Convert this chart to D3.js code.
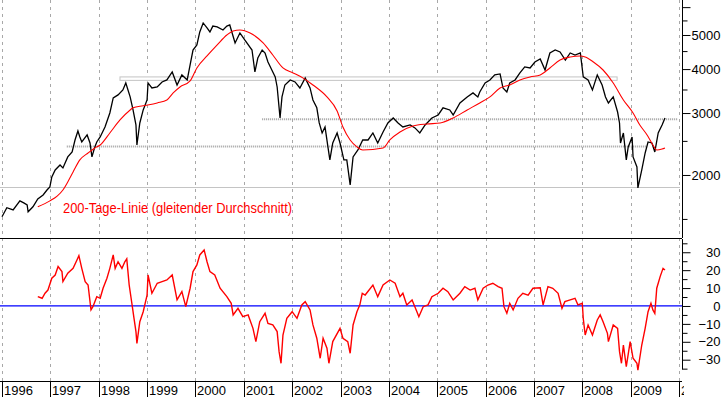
<!DOCTYPE html>
<html>
<head>
<meta charset="utf-8">
<script src="https://cdn.jsdelivr.net/npm/d3@7"></script>
<style>
  body { margin: 0; background: #fff; }
  svg { display: block; font-family: "Liberation Sans", Arial, sans-serif; }
</style>
</head>
<body>
<div id="chart"></div>
<script>
// Kurs (Euro Stoxx 50), Zeit in Dezimaljahren
var priceT = [1996.00,1996.10,1996.23,1996.37,1996.45,1996.52,1996.54,1996.64,1996.74,1996.85,1996.93,1996.99,
  1997.03,1997.10,1997.20,1997.26,1997.36,1997.45,1997.51,1997.57,1997.61,1997.65,1997.76,1997.82,1997.86,1997.92,1997.96,
  1998.03,1998.13,1998.23,1998.30,1998.40,1998.50,1998.56,1998.65,1998.71,1998.77,1998.79,1998.85,1998.92,
  1999.00,1999.02,1999.10,1999.21,1999.31,1999.41,1999.52,1999.62,1999.72,1999.83,1999.89,1999.95,
  2000.03,2000.09,2000.16,2000.24,2000.30,2000.36,2000.45,2000.57,2000.65,2000.71,2000.82,2000.92,
  2001.02,2001.17,2001.23,2001.29,2001.38,2001.44,2001.50,2001.58,2001.65,2001.69,2001.75,2001.79,2001.85,2001.96,
  2002.06,2002.16,2002.27,2002.37,2002.43,2002.51,2002.56,2002.62,2002.68,2002.74,2002.78,2002.84,2002.93,2002.99,
  2003.07,2003.13,2003.20,2003.26,2003.36,2003.46,2003.57,2003.67,2003.77,2003.88,2003.98,
  2004.09,2004.19,2004.29,2004.44,2004.54,2004.64,2004.75,2004.89,
  2005.02,2005.12,2005.26,2005.33,2005.47,2005.62,2005.74,2005.84,2005.88,2005.99,
  2006.09,2006.19,2006.30,2006.36,2006.44,2006.50,2006.61,2006.71,2006.81,2006.92,
  2007.02,2007.13,2007.23,2007.33,2007.44,2007.54,2007.65,2007.75,2007.85,2007.96,
  2008.02,2008.12,2008.21,2008.31,2008.41,2008.48,2008.54,2008.64,2008.73,2008.77,2008.79,2008.85,2008.91,2008.95,
  2009.03,2009.05,2009.13,2009.15,2009.23,2009.30,2009.36,2009.44,2009.50,2009.57,2009.65,2009.71];
var priceV = [1521,1614,1591,1688,1666,1645,1572,1624,1710,1755,1813,1850,
  1975,2067,2136,2095,2251,2325,2515,2668,2565,2482,2599,2466,2251,2403,2482,
  2565,2739,3001,3312,3378,3489,3653,3334,3061,2775,2434,2811,3061,
  3268,3653,3535,3558,3677,3725,3925,3605,3850,3725,4109,4532,
  4684,5100,5410,5235,5100,5300,5270,5166,5300,5340,4745,5066,
  4839,4532,3925,4300,4532,4444,4190,3976,3800,3558,2905,3334,3605,3725,
  3677,3535,3776,3535,3268,3105,2811,2633,2739,2403,2207,2466,2633,2466,
  2207,2207,1874,2251,2356,2515,2515,2633,2466,2650,2811,
  2905,2811,2739,2775,2722,2633,2775,2905,
  2962,3105,3061,2962,3205,3334,3422,3334,3444,3653,
  3725,3850,3875,3535,3444,3653,3725,3900,4056,4030,
  4190,4272,3976,4444,4532,4473,4245,4444,4386,4444,
  3800,3725,3489,3850,3605,3334,3205,3334,3020,2811,2466,2633,2207,2403,
  2565,2251,2108,1838,2067,2310,2482,2466,2325,2633,2775,2905];

// 200-Tage-Linie
var maT = [1996.74,1996.99,1997.14,1997.26,1997.36,1997.47,1997.61,1997.78,1997.92,1998.03,1998.23,1998.44,1998.65,1998.71,1998.92,
  1999.21,1999.41,1999.54,1999.68,1999.89,2000.03,2000.24,2000.45,2000.65,2000.78,2000.92,
  2001.13,2001.40,2001.60,2001.81,2002.02,2002.22,2002.43,2002.72,2002.93,2003.05,2003.20,2003.34,2003.46,2003.88,
  2004.02,2004.23,2004.50,2004.79,2005.06,2005.33,2005.62,2005.88,2006.09,2006.30,2006.50,2006.71,2006.92,
  2007.13,2007.33,2007.54,2007.75,2007.96,2008.06,2008.23,2008.43,2008.64,2008.85,2009.05,2009.19,2009.34,2009.46,2009.54,2009.65,2009.71];
var maV = [1624,1688,1742,1813,1911,2040,2207,2310,2387,2434,2633,2867,3061,3105,3146,
  3205,3268,3422,3558,3701,4030,4358,4684,5000,5133,5166,
  5066,4745,4386,4030,3900,3776,3605,3334,3041,2739,2515,2403,2356,2387,
  2515,2650,2757,2793,2811,2905,3061,3205,3334,3535,3605,3725,3800,
  3850,4030,4245,4330,4358,4330,4190,3976,3653,3268,3001,2775,2599,2434,2356,2371,2387];

// Abstand zur 200-Tage-Linie in %
var oscT = [1996.74,1996.83,1996.89,1996.95,1997.03,1997.10,1997.16,1997.24,1997.26,1997.36,1997.47,1997.55,1997.59,1997.65,1997.72,1997.78,1997.84,1997.88,1997.96,
  1998.03,1998.09,1998.17,1998.23,1998.30,1998.34,1998.40,1998.48,1998.54,1998.58,1998.63,1998.69,1998.73,1998.77,1998.79,1998.85,1998.92,
  1999.00,1999.02,1999.10,1999.21,1999.31,1999.41,1999.52,1999.62,1999.72,1999.80,1999.89,1999.95,
  2000.03,2000.09,2000.18,2000.24,2000.30,2000.40,2000.51,2000.65,2000.74,2000.78,2000.88,2000.98,
  2001.09,2001.19,2001.25,2001.33,2001.44,2001.50,2001.60,2001.69,2001.73,2001.77,2001.81,2001.89,
  2002.00,2002.10,2002.20,2002.27,2002.37,2002.43,2002.51,2002.58,2002.64,2002.72,2002.76,2002.84,2002.99,
  2003.05,2003.15,2003.20,2003.26,2003.34,2003.40,2003.45,2003.51,2003.67,2003.77,2003.88,
  2004.02,2004.13,2004.23,2004.29,2004.37,2004.48,2004.58,2004.62,2004.71,2004.81,2004.89,
  2005.02,2005.12,2005.22,2005.33,2005.47,2005.57,2005.68,2005.78,2005.84,2005.95,
  2006.05,2006.15,2006.26,2006.34,2006.38,2006.44,2006.50,2006.57,2006.67,2006.77,2006.88,2006.98,
  2007.13,2007.19,2007.29,2007.39,2007.50,2007.58,2007.64,2007.75,2007.85,2007.91,
  2008.00,2008.02,2008.06,2008.12,2008.21,2008.31,2008.37,2008.43,2008.52,2008.54,2008.64,2008.73,2008.77,2008.81,2008.85,2008.91,2008.99,
  2009.05,2009.13,2009.15,2009.23,2009.30,2009.36,2009.42,2009.46,2009.50,2009.54,2009.61,2009.67,2009.71];
var oscV = [5.2,4.3,7.1,8.9,15.5,17.3,22,19.2,13.6,18.3,21,25.7,28.1,21,13.6,11.7,-2.2,-0.4,5.2,
  4.3,9.9,15.5,21,28.5,21,24.7,21,24.7,26.3,11.7,0.6,-6.9,-14.3,-20.9,-8.8,-3.2,
  6.1,17.3,7.1,12.7,13.6,14.5,17.3,3.4,8,-0.4,9.9,19.2,
  22.9,28.5,31.3,24.7,19.2,17.3,9.9,5.2,1.5,-5,-1.3,-6,
  -5,-12.5,-19.9,-8.8,-4.1,-9.7,-10.6,-14.3,-25.5,-32,-16.2,-6.9,
  -3.2,-6.9,0.6,2.4,-2.2,-10.6,-18,-29.2,-18,-23.6,-32,-19.9,-12.5,
  -18,-19.9,-26.4,-10.6,-3.2,0.6,7,6.1,11.7,5.2,11.7,
  14.5,12.7,5.2,7.1,0.6,3.4,-3.2,-6,-0.4,0.6,5.2,
  7.1,9.9,8,3.4,7.1,10.8,8.9,9.9,3.4,9.9,
  11.7,12.7,10.8,9.9,-0.4,-4.1,1.5,-2.2,4.3,7.1,6.1,9.9,
  10.2,0.6,10.8,9.9,7.1,-1.3,2.4,3.4,4.3,0.6,
  1.5,-6.9,-16.2,-10.6,-16.2,-7.8,-5,-8.8,-15.3,-19.9,-10.6,-12.5,-25.5,-32,-21.8,-33.9,-19.9,
  -29.2,-32,-35.8,-21.8,-12.5,-3.2,1.5,-2.2,-4.1,9.9,16.4,21,20.1];

// Unterstützungs-/Widerstandslinien
var bandFrom = 1998.44, bandTo = 2008.72, bandLo = 3715, bandHi = 3800;
var dottedLevels = [2410, 2880];
var dottedFrom = [1997.34, 2001.38];
var dottedTo = [2009.32, 2009.98];
var solidLevel = 1850;

var years = d3.range(1996, 2011);
var priceTicksMajor = [2000, 3000, 4000, 5000];
var priceTicksMinor = [1500, 2500, 3500, 4500, 5500];
var oscTicksMajor = [-30, -20, -10, 0, 10, 20, 30];
var oscTicksMinor = [-35, -25, -15, -5, 5, 15, 25, 35];

var W = 723, H = 397;
var axisX = 682, topBottom = 238, oscTop = 239, oscBottom = 381;

var svg = d3.select("#chart").append("svg")
  .attr("width", W).attr("height", H);
svg.append("rect").attr("width", W).attr("height", H).attr("fill", "#fff");

var x = d3.scaleLinear().domain([1996, 2010]).range([2, 679]);
var y = d3.scaleLog().domain([1324, 6287]).range([topBottom, 0]);
var yo = d3.scaleLinear().domain([-41.9, 37.4]).range([oscBottom, oscTop]);

// vertikale Jahreslinien
svg.append("g").selectAll("line").data(years).enter().append("line")
  .attr("x1", function(d) { return Math.round(x(d)) + 0.5; })
  .attr("x2", function(d) { return Math.round(x(d)) + 0.5; })
  .attr("y1", 0).attr("y2", oscBottom)
  .attr("stroke", "#a8a8a8").attr("stroke-dasharray", "3,4");

// graue Linien
svg.append("rect")
  .attr("x", x(bandFrom)).attr("y", y(bandHi))
  .attr("width", x(bandTo) - x(bandFrom)).attr("height", y(bandLo) - y(bandHi))
  .attr("fill", "#fff").attr("stroke", "#c4c4c4").attr("stroke-width", 1);
svg.append("g").selectAll("line").data(dottedLevels).enter().append("line")
  .attr("x1", function(d, i) { return x(dottedFrom[i]); })
  .attr("x2", function(d, i) { return x(dottedTo[i]); })
  .attr("y1", function(d) { return y(d); })
  .attr("y2", function(d) { return y(d); })
  .attr("stroke", "#a0a0a0").attr("stroke-width", 2).attr("stroke-dasharray", "1,1");
svg.append("line")
  .attr("x1", 0).attr("x2", 680)
  .attr("y1", Math.round(y(solidLevel)) + 0.5).attr("y2", Math.round(y(solidLevel)) + 0.5)
  .attr("stroke", "#c4c4c4");

// Kurslinie
var priceData = priceT.map(function(t, i) { return [t, priceV[i]]; });
var maData = maT.map(function(t, i) { return [t, maV[i]]; });
var oscData = oscT.map(function(t, i) { return [t, oscV[i]]; });

var linePrice = d3.line()
  .x(function(d) { return x(d[0]); })
  .y(function(d) { return y(d[1]); });
svg.append("path").datum(priceData)
  .attr("fill", "none").attr("stroke", "#000").attr("stroke-width", 1.3)
  .attr("d", linePrice);
svg.append("path").datum(maData)
  .attr("fill", "none").attr("stroke", "#ff0000").attr("stroke-width", 1.1)
  .attr("d", d3.line().curve(d3.curveMonotoneX)
    .x(function(d) { return x(d[0]); })
    .y(function(d) { return y(d[1]); }));

svg.append("text")
  .attr("x", 63).attr("y", 213)
  .attr("fill", "#ff0000").attr("font-size", 14)
  .attr("textLength", 229).attr("lengthAdjust", "spacingAndGlyphs")
  .text("200-Tage-Linie (gleitender Durchschnitt)");

// Nulllinie und Oszillator
svg.append("line")
  .attr("x1", 0).attr("x2", axisX)
  .attr("y1", yo(0)).attr("y2", yo(0))
  .attr("stroke", "#0000ff").attr("stroke-width", 1.3);
svg.append("path").datum(oscData)
  .attr("fill", "none").attr("stroke", "#ff0000").attr("stroke-width", 1.4)
  .attr("d", d3.line()
    .x(function(d) { return x(d[0]); })
    .y(function(d) { return yo(d[1]); }));

// Rahmen
svg.append("line").attr("x1", 0).attr("x2", axisX).attr("y1", topBottom + 0.5).attr("y2", topBottom + 0.5).attr("stroke", "#000");
svg.append("line").attr("x1", 0).attr("x2", axisX).attr("y1", oscBottom + 0.5).attr("y2", oscBottom + 0.5).attr("stroke", "#000");

// rechte Achsen
function styleAxis(g) {
  g.select(".domain").remove();
  g.selectAll("line").attr("stroke", "#000");
  g.selectAll("text").attr("font-size", 13).attr("fill", "#000")
    .attr("font-family", "'Liberation Sans', Arial, sans-serif");
}
var gTop = svg.append("g").attr("transform", "translate(" + (axisX + 0.5) + ",0)");
gTop.append("line").attr("y1", 0).attr("y2", topBottom).attr("stroke", "#000");
gTop.append("g").call(d3.axisRight(y).tickValues(priceTicksMajor).tickSize(8).tickPadding(1).tickFormat(d3.format("d"))).call(styleAxis);
gTop.append("g").call(d3.axisRight(y).tickValues([6000]).tickSize(8).tickFormat("")).call(styleAxis);
gTop.append("g").call(d3.axisRight(y).tickValues(priceTicksMinor).tickSize(5).tickFormat("")).call(styleAxis);

var gOsc = svg.append("g").attr("transform", "translate(" + (axisX + 0.5) + ",0)");
gOsc.append("line").attr("y1", oscTop).attr("y2", yo(-35) + 1).attr("stroke", "#000");
gOsc.append("g").call(d3.axisRight(yo).tickValues(oscTicksMajor).tickSize(8).tickFormat(d3.format("d"))).call(styleAxis)
  .selectAll("text").attr("text-anchor", "end").attr("x", 720 - axisX);
gOsc.append("g").call(d3.axisRight(yo).tickValues(oscTicksMinor).tickSize(5).tickFormat("")).call(styleAxis);

// Jahresachse
svg.append("clipPath").attr("id", "clipYears").append("rect")
  .attr("x", 0).attr("y", oscBottom).attr("width", 684).attr("height", H - oscBottom);
var gYears = svg.append("g").attr("clip-path", "url(#clipYears)");
gYears.selectAll("line").data(years).enter().append("line")
  .attr("x1", function(d) { return Math.round(x(d)) + 0.5; })
  .attr("x2", function(d) { return Math.round(x(d)) + 0.5; })
  .attr("y1", oscBottom).attr("y2", H)
  .attr("stroke", "#000");
gYears.selectAll("text").data(years).enter().append("text")
  .attr("x", function(d) { return Math.round(x(d)) + 2; })
  .attr("y", 395)
  .attr("font-size", 13).attr("fill", "#000")
  .text(function(d) { return d; });
</script>
</body>
</html>
